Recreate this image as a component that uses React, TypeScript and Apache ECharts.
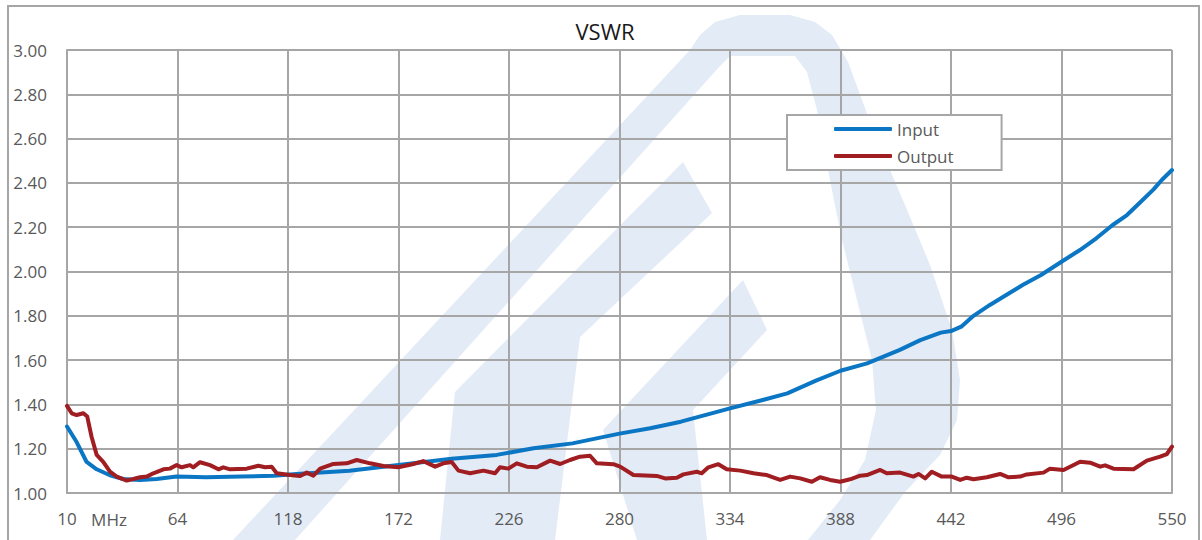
import React, { useEffect, useRef } from 'react';
import * as echarts from 'echarts';

const FONT = '"Open Sans", "Noto Sans", sans-serif';
const GRID = '#a6a6a6';
const LABEL = '#595959';

const X_MIN = 10;
const X_MAX = 550;
const X_STEP = 54;
const Y_MIN = 1;
const Y_MAX = 3;
const Y_STEP = 0.2;

const seriesNames = ['Input', 'Output'];
const seriesColors = ['#0b76c3', '#a01d22'];

// [frequency MHz, VSWR]
const inputVswr: [number, number][] = [
  [10, 1.3], [14.7, 1.23], [19.6, 1.14], [24.5, 1.107], [31, 1.08], [37.5, 1.063],
  [45.7, 1.059], [53.8, 1.063], [63.6, 1.074], [78, 1.071], [95, 1.074], [111, 1.078],
  [124, 1.087], [148, 1.1], [172, 1.126], [198, 1.155], [220, 1.172], [238, 1.202],
  [257, 1.224], [280, 1.268], [295, 1.292], [310, 1.322], [334, 1.382], [350, 1.42],
  [362, 1.45], [376, 1.507], [388, 1.552], [401, 1.585], [417, 1.646], [427, 1.69],
  [437, 1.724], [442, 1.731], [447, 1.751], [453, 1.8], [461, 1.849], [469, 1.894],
  [477, 1.939], [486, 1.984], [496, 2.044], [505, 2.097], [513, 2.15], [521, 2.21],
  [528, 2.255], [534, 2.308], [541, 2.371], [545, 2.413], [550, 2.458],
];

const outputVswr: [number, number][] = [
  [10, 1.393], [12.3, 1.36], [14.7, 1.352], [18, 1.36], [19.9, 1.345], [22, 1.254],
  [24.5, 1.172], [27.7, 1.141], [31, 1.096], [34.3, 1.074], [39.2, 1.056], [42.4, 1.063],
  [45.7, 1.071], [49, 1.074], [52.2, 1.089], [57.1, 1.107], [60.3, 1.11], [63.6, 1.126],
  [66, 1.116], [70.1, 1.126], [71.7, 1.116], [75, 1.139], [79.9, 1.126], [84, 1.107],
  [86.4, 1.116], [89.7, 1.107], [97.8, 1.11], [103.5, 1.123], [106.8, 1.116], [110, 1.119],
  [112.5, 1.089], [119, 1.081], [123.9, 1.077], [127.2, 1.092], [130.4, 1.078], [133.7, 1.11],
  [140.2, 1.131], [146.7, 1.134], [151.6, 1.149], [158.1, 1.134], [164.6, 1.122], [171.9, 1.116],
  [179.3, 1.131], [184.1, 1.144], [189.9, 1.119], [193.9, 1.134], [198, 1.14], [201.3, 1.101],
  [207, 1.089], [213.5, 1.101], [219.2, 1.089], [221.6, 1.116], [225.7, 1.11], [229.8, 1.134],
  [234.7, 1.119], [239.6, 1.116], [246.1, 1.146], [251, 1.131], [255.8, 1.149], [260.7, 1.164],
  [265.6, 1.168], [268.9, 1.134], [277, 1.13], [280.3, 1.119], [286.8, 1.081], [298.2, 1.077],
  [302.3, 1.066], [308, 1.069], [311.2, 1.084], [317.8, 1.096], [320.2, 1.089], [323.4, 1.116],
  [328.3, 1.13], [332.4, 1.107], [339, 1.101], [345.5, 1.089], [352, 1.081], [358.5, 1.059],
  [363.4, 1.074], [368.3, 1.066], [374, 1.051], [378, 1.071], [382.9, 1.059], [387.8, 1.051],
  [392.7, 1.062], [397.6, 1.078], [400.9, 1.081], [407.4, 1.104], [410.6, 1.089], [417.1, 1.092],
  [423.6, 1.074], [426.1, 1.086], [429.4, 1.066], [432.6, 1.096], [437.5, 1.074], [442.4, 1.074],
  [446.5, 1.059], [449.7, 1.069], [453, 1.062], [459.5, 1.071], [466, 1.086], [470.1, 1.071],
  [475.8, 1.074], [479, 1.084], [487.2, 1.092], [490.4, 1.11], [497, 1.104], [505.1, 1.141],
  [510, 1.137], [514.9, 1.119], [517.3, 1.125], [521.4, 1.11], [531.2, 1.107], [537.7, 1.146],
  [544.2, 1.164], [547.5, 1.176], [550, 1.209],
];

const WM = '#e2ebf6';

function wmPoly(points: number[][]) {
  return {
    type: 'polygon',
    z: -10,
    silent: true,
    shape: { points },
    style: { fill: WM, stroke: 'none' },
  };
}

export default function App() {
  const ref = useRef<HTMLDivElement>(null);

  useEffect(() => {
    const chart = echarts.init(ref.current!, null, { renderer: 'svg' });
    const shift = (d: [number, number][]) => d.map(([f, v]) => [f - X_MIN, v]);
    const option: any = {
      animation: false,
      backgroundColor: '#ffffff',
      textStyle: { fontFamily: FONT },
      grid: { left: 67, right: 30, top: 50, bottom: 47 },
      xAxis: {
        type: 'value',
        min: 0,
        max: X_MAX - X_MIN,
        interval: X_STEP,
        axisLine: { show: true, lineStyle: { color: GRID, width: 2 } },
        axisTick: { show: false },
        splitLine: { show: true, lineStyle: { color: GRID, width: 2 } },
        axisLabel: {
          color: LABEL,
          fontSize: 17,
          fontFamily: FONT,
          margin: 17,
          formatter: (v: number) => String(Math.round(v + X_MIN)),
        },
      },
      yAxis: {
        type: 'value',
        min: Y_MIN,
        max: Y_MAX,
        interval: Y_STEP,
        axisLine: { show: true, lineStyle: { color: GRID, width: 2 } },
        axisTick: { show: false },
        splitLine: { show: true, lineStyle: { color: GRID, width: 2 } },
        axisLabel: {
          color: LABEL,
          fontSize: 17,
          fontFamily: FONT,
          margin: 20,
          formatter: (v: number) => v.toFixed(2),
        },
      },
      legend: {
        orient: 'vertical',
        left: 787,
        top: 115,
        data: seriesNames,
        icon: 'roundRect',
        itemWidth: 58,
        itemHeight: 4,
        itemGap: 7,
        padding: [4, 48, 4, 47],
        backgroundColor: '#ffffff',
        borderColor: GRID,
        borderWidth: 2,
        textStyle: { color: LABEL, fontSize: 17, lineHeight: 20, fontFamily: FONT },
      },
      series: [
        {
          name: seriesNames[0],
          type: 'line',
          data: shift(inputVswr),
          symbol: 'none',
          color: seriesColors[0],
          lineStyle: { width: 4, color: seriesColors[0], cap: 'round', join: 'round' },
          z: 3,
        },
        {
          name: seriesNames[1],
          type: 'line',
          data: shift(outputVswr),
          symbol: 'none',
          color: seriesColors[1],
          lineStyle: { width: 4, color: seriesColors[1], cap: 'round', join: 'round' },
          z: 4,
        },
      ],
      graphic: [
        // watermark (background logo)
        wmPoly([
          [233, 540], [690, 50], [700, 35], [715, 22], [740, 15], [790, 15], [815, 22], [832, 35],
          [848, 62], [875, 135], [905, 205], [930, 265], [952, 330], [960, 380], [957, 420],
          [940, 455], [905, 492], [870, 540], [808, 540], [840, 500], [865, 460], [876, 410],
          [872, 360], [857, 300], [842, 240], [828, 170], [817, 110], [807, 72], [795, 56],
          [730, 56], [720, 66], [295, 540],
        ]),
        wmPoly([[440, 540], [455, 392], [683, 162], [712, 213], [580, 337], [555, 540]]),
        wmPoly([[637, 540], [603, 430], [743, 280], [767, 330], [693, 410], [707, 540]]),
        // outer chart frame
        {
          type: 'rect',
          z: -5,
          silent: true,
          shape: { x: 8, y: 6, width: 1191, height: 600 },
          style: { fill: 'none', stroke: GRID, lineWidth: 2 },
        },
        {
          type: 'text',
          x: 605,
          y: 31,
          style: {
            text: 'VSWR',
            fill: '#1a1a1a',
            font: `22px ${FONT}`,
            textAlign: 'center',
            textVerticalAlign: 'middle',
          },
        },
        {
          type: 'text',
          x: 109,
          y: 519,
          style: {
            text: 'MHz',
            fill: LABEL,
            font: `17px ${FONT}`,
            textAlign: 'center',
            textVerticalAlign: 'middle',
          },
        },
      ],
    };
    chart.setOption(option);
    return () => chart.dispose();
  }, []);

  return (
    <div
      ref={ref}
      style={{ position: 'fixed', left: 0, top: 0, width: 1202, height: 540, background: '#fff' }}
    />
  );
}
